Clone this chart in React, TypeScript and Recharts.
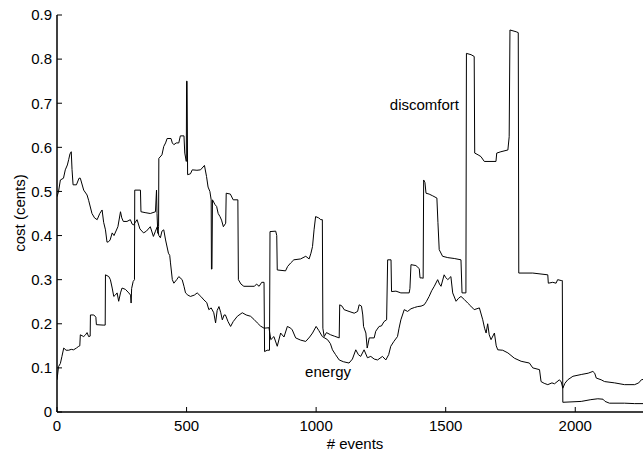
import { Label, Line, LineChart, ReferenceDot, XAxis, YAxis } from 'recharts';

// event index / cost pairs
const energyX = [
  0, 6, 13, 25, 32, 40, 45, 50, 55, 58, 62, 75, 85, 90, 103, 116, 122, 135, 145, 155,
  165, 174, 180, 187, 193, 199, 205, 213, 220, 235, 245, 250, 256, 270, 283, 290, 295, 309, 320, 334,
  345, 360, 372, 380, 387, 393, 399, 405, 412, 419, 430, 435, 438, 445, 451, 462, 470, 483, 490, 496,
  505, 515, 530, 541, 555, 567, 578, 586, 595, 605, 612, 618, 625, 632, 638, 645, 650, 660, 670, 680,
  696, 715, 730, 747, 760, 773, 785, 799, 818, 825, 837, 850, 863, 876, 889, 902, 908, 921, 940, 960,
  975, 986, 1000, 1010, 1024, 1044, 1055, 1063, 1075, 1089, 1105, 1127, 1140, 1153, 1163, 1172, 1185, 1198, 1211, 1224,
  1237, 1256, 1269, 1280, 1288, 1300, 1314, 1320, 1327, 1340, 1353, 1366, 1380, 1392, 1405, 1417, 1425, 1436, 1446, 1456,
  1469, 1476, 1482, 1494, 1500, 1508, 1520, 1527, 1540, 1550, 1559, 1572, 1585, 1597, 1610, 1630, 1643, 1650, 1656, 1662,
  1668, 1675, 1688, 1695, 1701, 1720, 1740, 1765, 1791, 1823, 1836, 1862, 1868, 1880, 1894, 1910, 1920, 1939, 1946, 1952,
  1960, 1971, 1991, 2023, 2050, 2068, 2075, 2081, 2100, 2113, 2152, 2190, 2229, 2245, 2255, 2270, 2300,
];
const energyY = [
  0.488, 0.5, 0.526, 0.53, 0.549, 0.56, 0.572, 0.585, 0.59, 0.55, 0.515, 0.515, 0.53, 0.53, 0.503, 0.492, 0.48, 0.45, 0.44, 0.436,
  0.45, 0.458, 0.43, 0.413, 0.385, 0.386, 0.39, 0.406, 0.4, 0.42, 0.454, 0.44, 0.432, 0.432, 0.436, 0.426, 0.424, 0.436, 0.415, 0.406,
  0.41, 0.42, 0.398, 0.41, 0.42, 0.4, 0.395, 0.41, 0.413, 0.39, 0.36, 0.355, 0.338, 0.3, 0.292, 0.3, 0.307, 0.3, 0.285, 0.27,
  0.265, 0.262, 0.265, 0.27, 0.262, 0.254, 0.248, 0.232, 0.236, 0.225, 0.202, 0.23, 0.239, 0.225, 0.209, 0.22, 0.22, 0.205, 0.194, 0.205,
  0.217, 0.225, 0.22, 0.217, 0.21, 0.202, 0.195, 0.19, 0.191, 0.164, 0.171, 0.149, 0.179, 0.17, 0.194, 0.19, 0.186, 0.168, 0.163, 0.16,
  0.17, 0.179, 0.194, 0.185, 0.171, 0.164, 0.155, 0.141, 0.13, 0.118, 0.114, 0.111, 0.12, 0.141, 0.13, 0.126, 0.141, 0.123, 0.126, 0.12,
  0.118, 0.126, 0.118, 0.13, 0.149, 0.16, 0.171, 0.19, 0.209, 0.232, 0.228, 0.234, 0.237, 0.239, 0.24, 0.243, 0.25, 0.262, 0.275, 0.285,
  0.3, 0.29, 0.285, 0.311, 0.305, 0.3, 0.307, 0.27, 0.251, 0.258, 0.262, 0.255, 0.247, 0.24, 0.232, 0.236, 0.209, 0.19, 0.179, 0.2,
  0.175, 0.164, 0.179, 0.15, 0.141, 0.14, 0.134, 0.122, 0.115, 0.111, 0.1, 0.096, 0.069, 0.065, 0.062, 0.066, 0.064, 0.073, 0.068, 0.054,
  0.065, 0.073, 0.081, 0.085, 0.088, 0.092, 0.088, 0.077, 0.073, 0.069, 0.066, 0.062, 0.062, 0.066, 0.073, 0.075, 0.078,
];

const discomfortX = [
  0, 6, 13, 19, 26, 35, 45, 55, 64, 75, 84, 88, 90, 103, 110, 116, 122, 128, 129, 142,
  150, 152, 178, 186, 187, 200, 206, 213, 219, 225, 232, 238, 245, 251, 264, 277, 284, 286, 288, 294,
  299, 300, 322, 324, 340, 360, 380, 384, 386, 389, 392, 393, 405, 412, 419, 425, 440, 445, 451, 460,
  470, 476, 490, 493, 499, 500, 502, 504, 515, 522, 540, 554, 569, 577, 583, 590, 595, 596, 598, 600,
  610, 616, 622, 629, 635, 642, 651, 653, 669, 680, 698, 700, 710, 721, 762, 770, 780, 790, 799, 801,
  811, 820, 822, 844, 848, 850, 882, 890, 902, 914, 940, 960, 973, 980, 986, 992, 998, 1010, 1018, 1024,
  1026, 1031, 1040, 1056, 1070, 1089, 1091, 1100, 1108, 1127, 1147, 1160, 1166, 1175, 1180, 1183, 1192, 1197, 1199, 1205,
  1224, 1230, 1243, 1252, 1262, 1272, 1276, 1289, 1291, 1308, 1327, 1359, 1362, 1366, 1385, 1398, 1401, 1409, 1413, 1415,
  1420, 1424, 1436, 1450, 1466, 1470, 1475, 1488, 1508, 1533, 1559, 1563, 1578, 1580, 1598, 1610, 1612, 1625, 1636, 1649,
  1694, 1697, 1713, 1740, 1745, 1748, 1772, 1780, 1782, 1836, 1894, 1896, 1913, 1926, 1932, 1946, 1950, 1952, 2023, 2060,
  2087, 2107, 2115, 2132, 2190, 2229, 2300,
];
const discomfortY = [
  0.073, 0.103, 0.11, 0.126, 0.145, 0.14, 0.14, 0.142, 0.141, 0.145, 0.149, 0.15, 0.175, 0.171, 0.175, 0.18, 0.171, 0.172, 0.22, 0.22,
  0.215, 0.198, 0.197, 0.197, 0.311, 0.307, 0.3, 0.281, 0.262, 0.265, 0.27, 0.251, 0.27, 0.281, 0.278, 0.27, 0.265, 0.247, 0.28, 0.296,
  0.3, 0.503, 0.503, 0.454, 0.452, 0.45, 0.454, 0.503, 0.45, 0.405, 0.42, 0.575, 0.583, 0.602, 0.61, 0.62, 0.62, 0.61, 0.606, 0.61,
  0.61, 0.626, 0.626, 0.587, 0.568, 0.75, 0.75, 0.538, 0.54, 0.549, 0.548, 0.549, 0.559, 0.534, 0.51, 0.5, 0.481, 0.324, 0.324, 0.481,
  0.47, 0.466, 0.45, 0.443, 0.435, 0.42, 0.428, 0.496, 0.494, 0.481, 0.481, 0.3, 0.29, 0.285, 0.285, 0.29, 0.285, 0.294, 0.294, 0.137,
  0.14, 0.14, 0.409, 0.41, 0.4, 0.322, 0.32, 0.33, 0.338, 0.345, 0.347, 0.353, 0.347, 0.36, 0.375, 0.413, 0.443, 0.44, 0.436, 0.436,
  0.19, 0.171, 0.18, 0.175, 0.172, 0.168, 0.243, 0.24, 0.232, 0.228, 0.224, 0.228, 0.243, 0.24, 0.22, 0.194, 0.179, 0.145, 0.15, 0.168,
  0.168, 0.183, 0.194, 0.195, 0.205, 0.209, 0.345, 0.345, 0.273, 0.274, 0.27, 0.27, 0.28, 0.334, 0.332, 0.325, 0.304, 0.304, 0.303, 0.526,
  0.52, 0.496, 0.494, 0.49, 0.485, 0.43, 0.368, 0.353, 0.35, 0.348, 0.345, 0.27, 0.27, 0.813, 0.81, 0.806, 0.587, 0.583, 0.579, 0.568,
  0.568, 0.587, 0.59, 0.594, 0.624, 0.866, 0.862, 0.86, 0.315, 0.315, 0.311, 0.292, 0.294, 0.292, 0.3, 0.298, 0.298, 0.022, 0.024, 0.028,
  0.03, 0.029, 0.024, 0.02, 0.02, 0.019, 0.019,
];

const xTicks = [0, 500, 1000, 1500, 2000];
const yTicks = [0, 0.1, 0.2, 0.3, 0.4, 0.5, 0.6, 0.7, 0.8, 0.9];

const toPoints = (xs: number[], ys: number[]) => xs.map((x, i) => ({ x, y: ys[i] }));
const energyData = toPoints(energyX, energyY);
const discomfortData = toPoints(discomfortX, discomfortY);

const FONT = '"Liberation Sans", Arial, Helvetica, sans-serif';
const FS = 15;

// MATLAB style: tick marks point into the plot
function BottomTick({ x, y, payload }: any) {
  return (
    <g>
      <line x1={x} y1={y} x2={x} y2={y - 5} stroke="#000" />
      <text x={x} y={y + 18.5} textAnchor="middle" fontSize={FS} fill="#000">
        {payload.value}
      </text>
    </g>
  );
}

function TopTick({ x, y }: any) {
  return <line x1={x} y1={y} x2={x} y2={y + 5} stroke="#000" />;
}

function LeftTick({ x, y, payload }: any) {
  return (
    <g>
      <line x1={x} y1={y} x2={x + 5} y2={y} stroke="#000" />
      <text x={x - 5} y={y + 5.3} textAnchor="end" fontSize={FS} fill="#000">
        {String(payload.value)}
      </text>
    </g>
  );
}

export default function App() {
  return (
    <div
      style={{
        position: 'fixed',
        left: 0,
        top: 0,
        width: 643,
        height: 451,
        overflow: 'hidden',
        background: '#fff',
        fontFamily: FONT,
      }}
    >
      <LineChart width={700} height={451} margin={{ top: 15, right: 47, bottom: 0, left: 0 }}>
        <XAxis
          dataKey="x"
          type="number"
          domain={[0, 2300]}
          ticks={xTicks}
          allowDataOverflow
          height={39}
          tickSize={0}
          tickMargin={0}
          tickLine={false}
          tick={<BottomTick />}
          axisLine={{ stroke: '#000', strokeWidth: 1.5 }}
        >
          <Label
            content={() => (
              <text x={355} y={449} textAnchor="middle" fontSize={FS} fill="#000">
                # events
              </text>
            )}
          />
        </XAxis>
        <XAxis
          xAxisId="top"
          orientation="top"
          dataKey="x"
          type="number"
          domain={[0, 2300]}
          ticks={xTicks}
          allowDataOverflow
          height={0}
          tickSize={0}
          tickMargin={0}
          tickLine={false}
          tick={<TopTick />}
          axisLine={{ stroke: '#000', strokeWidth: 1.5 }}
        />
        <YAxis
          type="number"
          domain={[0, 0.9]}
          ticks={yTicks}
          allowDataOverflow
          width={57}
          tickSize={0}
          tickMargin={0}
          tickLine={false}
          tick={<LeftTick />}
          axisLine={{ stroke: '#000', strokeWidth: 1.5 }}
        >
          <Label
            content={() => (
              <text
                x={25}
                y={213}
                transform="rotate(-90 25 213)"
                textAnchor="middle"
                fontSize={FS}
                fill="#000"
              >
                cost (cents)
              </text>
            )}
          />
        </YAxis>
        <Line
          data={energyData}
          dataKey="y"
          type="linear"
          stroke="#000"
          strokeWidth={1}
          dot={false}
          activeDot={false}
          isAnimationActive={false}
        />
        <Line
          data={discomfortData}
          dataKey="y"
          type="linear"
          stroke="#000"
          strokeWidth={1}
          dot={false}
          activeDot={false}
          isAnimationActive={false}
        />
        <ReferenceDot
          x={1418}
          y={0.697}
          r={0}
          fill="none"
          stroke="none"
          label={{ value: 'discomfort', position: 'center', fill: '#000', fontSize: FS }}
        />
        <ReferenceDot
          x={1046}
          y={0.092}
          r={0}
          fill="none"
          stroke="none"
          label={{ value: 'energy', position: 'center', fill: '#000', fontSize: FS }}
        />
      </LineChart>
    </div>
  );
}
